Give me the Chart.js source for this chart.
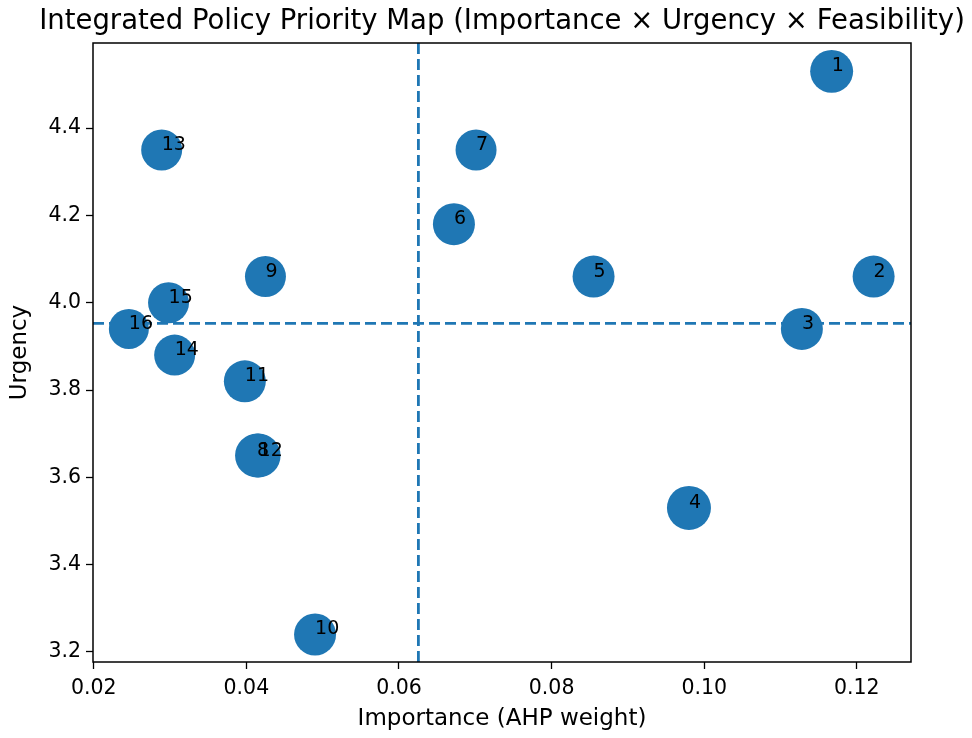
<!DOCTYPE html>
<html>
<head>
<meta charset="utf-8">
<script src="https://cdn.jsdelivr.net/npm/chart.js@4"></script>
<style>
  body { margin: 0; background: #fff; }
  #wrap { width: 972px; height: 738px; }
</style>
</head>
<body>
<div id="wrap"><canvas id="priorityChart" width="972" height="738"></canvas></div>
<script>
// Policy ids, AHP weights (importance), urgency scores and feasibility scores
const policyLabels = ['1', '2', '3', '4', '5', '6', '7', '8', '9', '10', '11', '12', '13', '14', '15', '16'];
const importance = [0.1167, 0.1222, 0.1128, 0.0980, 0.0855, 0.0672, 0.0701, 0.0414,
                    0.0425, 0.0490, 0.0398, 0.0416, 0.0289, 0.0306, 0.0298, 0.0246];
const urgency = [4.53, 4.06, 3.94, 3.53, 4.06, 4.18, 4.35, 3.65,
                 4.06, 3.24, 3.82, 3.65, 4.35, 3.88, 4.00, 3.94];
const feasibility = [4.19, 4.00, 4.00, 4.39, 4.00, 4.00, 3.81, 4.39,
                     3.81, 4.00, 4.00, 4.39, 3.81, 3.81, 3.81, 3.63];

const xTicks = [0.02, 0.04, 0.06, 0.08, 0.10, 0.12];
const yTicks = [3.2, 3.4, 3.6, 3.8, 4.0, 4.2, 4.4];

const meanImportance = importance.reduce((a, b) => a + b, 0) / importance.length;
const meanUrgency = urgency.reduce((a, b) => a + b, 0) / urgency.length;

const xMin = 0.0199, xMax = 0.1271;
const yMin = 3.177, yMax = 4.595;

const BLUE = '#1f77b4';
const FONT = 'DejaVu Sans';

// Draws the frame, title and the point numbers
const decorations = {
    id: 'decorations',
    afterDatasetsDraw(chart) {
        const ctx = chart.ctx;
        const area = chart.chartArea;
        const meta = chart.getDatasetMeta(0);

        ctx.save();
        ctx.fillStyle = '#000';
        ctx.font = '19px "' + FONT + '"';
        ctx.textAlign = 'left';
        ctx.textBaseline = 'alphabetic';
        meta.data.forEach((pt, i) => {
            ctx.fillText(policyLabels[i], pt.x, pt.y);
        });

        ctx.strokeStyle = '#000';
        ctx.lineWidth = 1.5;
        ctx.strokeRect(area.left, area.top, area.right - area.left, area.bottom - area.top);

        ctx.font = '27.5px "' + FONT + '"';
        ctx.textAlign = 'center';
        ctx.fillText('Integrated Policy Priority Map (Importance \u00d7 Urgency \u00d7 Feasibility)',
            (area.left + area.right) / 2, 29);
        ctx.restore();
    }
};

function fixTicks(values) {
    return function (scale) {
        scale.ticks = values.map(v => ({ value: v }));
    };
}

const ctx = document.getElementById('priorityChart').getContext('2d');
const priorityChart = new Chart(ctx, {
    type: 'bubble',
    data: {
        datasets: [
            {
                label: 'Policies',
                data: importance.map((x, i) => ({ x: x, y: urgency[i], r: 10.5 * Math.sqrt(feasibility[i]) })),
                backgroundColor: BLUE,
                borderWidth: 0,
                hoverRadius: 0
            },
            {
                type: 'line',
                label: 'Mean importance',
                data: [{ x: meanImportance, y: yMin }, { x: meanImportance, y: yMax }],
                borderColor: BLUE,
                borderWidth: 2.8,
                borderDash: [11, 5],
                pointRadius: 0,
                fill: false
            },
            {
                type: 'line',
                label: 'Mean urgency',
                data: [{ x: xMin, y: meanUrgency }, { x: xMax, y: meanUrgency }],
                borderColor: BLUE,
                borderWidth: 2.8,
                borderDash: [11, 5],
                pointRadius: 0,
                fill: false
            }
        ]
    },
    options: {
        responsive: false,
        animation: false,
        devicePixelRatio: 1,
        layout: { padding: { left: 0, right: 61, top: 43, bottom: 0 } },
        plugins: {
            legend: { display: false },
            title: { display: false },
            tooltip: { enabled: false }
        },
        scales: {
            x: {
                type: 'linear',
                min: xMin,
                max: xMax,
                afterBuildTicks: fixTicks(xTicks),
                afterFit(scale) { scale.height = 76; },
                grid: { drawOnChartArea: false, tickLength: 7, color: '#000', tickWidth: 1.3 },
                border: { display: false },
                ticks: {
                    color: '#000',
                    padding: 7,
                    font: { family: FONT, size: 20.5 },
                    callback: v => v.toFixed(2)
                },
                title: {
                    display: true,
                    text: 'Importance (AHP weight)',
                    color: '#000',
                    font: { family: FONT, size: 23 },
                    padding: { top: 0, bottom: 5 }
                }
            },
            y: {
                type: 'linear',
                min: yMin,
                max: yMax,
                afterBuildTicks: fixTicks(yTicks),
                afterFit(scale) { scale.width = 93; },
                grid: { drawOnChartArea: false, tickLength: 7, color: '#000', tickWidth: 1.3 },
                border: { display: false },
                ticks: {
                    color: '#000',
                    padding: 5,
                    font: { family: FONT, size: 20.5 },
                    callback: v => v.toFixed(1)
                },
                title: {
                    display: true,
                    text: 'Urgency',
                    color: '#000',
                    font: { family: FONT, size: 23 },
                    padding: { top: 6, bottom: 0 }
                }
            }
        }
    },
    plugins: [decorations]
});
</script>
</body>
</html>
